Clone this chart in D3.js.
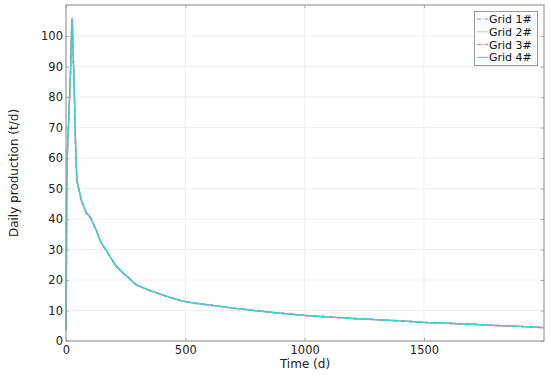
<!DOCTYPE html>
<html><head><meta charset="utf-8">
<script src="https://cdn.jsdelivr.net/npm/d3@7"></script>
<style>body{margin:0;background:#fff}svg{display:block}svg text{font-family:"DejaVu Sans","Bitstream Vera Sans",Verdana,sans-serif}</style>
</head><body><svg id="c" width="550" height="375"></svg>
<script>
const seriesNames = ["Grid 1#", "Grid 2#", "Grid 3#", "Grid 4#"];
const seriesColors = ["#6f8fe8", "#9be09b", "#f06a5a", "#3ecfd6"];
const seriesDash = ["4,1.5,1,1.5", null, "4,1.5,1,1.5", null];
const time = [0,1,2,3,6,10,14,18,22,25,27,30,34,38,42,46,55,65,75,85,95,105,115,127,140,155,170,190,211,230,250,270,295,320,350,390,440,500,560,620,700,800,900,1000,1100,1200,1300,1400,1500,1600,1700,1800,1900,2000];
const grid4 = [3.5,15,30,50,62,70,78,86,97,106,103,94,85,70,60,53,49.6,46,44,42,41.2,40,38.3,36.3,33.6,31.3,29.6,27,24.5,23,21.6,20.2,18.4,17.6,16.6,15.5,14.2,12.9,12.2,11.6,10.8,9.9,9.1,8.4,7.9,7.4,7.0,6.6,6.1,5.8,5.5,5.1,4.8,4.4];
const grid3 = [3.5,15,30,50,62,70,78,86,97,105.6,103,94,85,70,60,53,49.6,46,44,42.2,41.5,40.2,38.3,36.3,33.6,31.3,29.6,27,24.7,22.8,21.8,20.0,18.6,17.6,16.6,15.5,14.2,12.9,12.3,11.6,10.8,9.9,9.1,8.4,7.9,7.4,7.0,6.6,6.1,5.8,5.5,5.1,4.8,4.4];
const grid2 = [3.5,15,30,50,62,70,78,86,97,105.8,103,94,85,70,60,53,49.6,46,44,42,41.3,40,38.3,36.3,33.6,31.3,29.6,27,24.6,23,21.7,20.1,18.5,17.6,16.6,15.5,14.2,12.9,12.2,11.6,10.8,9.9,9.1,8.4,7.9,7.4,7.0,6.6,6.1,5.8,5.5,5.1,4.8,4.4];
const grid1 = [3.5,15,30,50,62,70,78,86,97,105.5,103,94,85,70,60,53,49.6,46,44,41.9,41.0,39.8,38.3,36.3,33.6,31.3,29.6,27,24.3,23.2,21.4,20.3,18.3,17.6,16.6,15.5,14.2,12.9,12.1,11.6,10.8,9.9,9.1,8.4,7.9,7.4,7.0,6.6,6.1,5.8,5.5,5.1,4.8,4.4];
const allSeries = [grid1, grid2, grid3, grid4];
const xTicks = [0, 500, 1000, 1500];
const yTicks = [0,10,20,30,40,50,60,70,80,90,100];

const FONT = '"DejaVu Sans","Bitstream Vera Sans",Verdana,sans-serif';
const svg = d3.select("#c");
const L = 66, R = 544, T = 5, B = 341;
const x = d3.scaleLinear().domain([0, 2003]).range([L, R]);
const y = d3.scaleLinear().domain([0, 110.2]).range([B, T]);

// grid
svg.append("g").selectAll("line").data(yTicks.slice(1)).join("line")
  .attr("x1", L).attr("x2", R).attr("y1", d => y(d)).attr("y2", d => y(d))
  .attr("stroke", "#efefef").attr("stroke-width", 1);
svg.append("g").selectAll("line").data(xTicks.slice(1)).join("line")
  .attr("y1", T).attr("y2", B).attr("x1", d => x(d)).attr("x2", d => x(d))
  .attr("stroke", "#efefef").attr("stroke-width", 1);

// axes with inward ticks
const fmt = d3.format("d");
const ax = svg.append("g").attr("transform", `translate(0,${B})`)
  .call(d3.axisBottom(x).tickValues(xTicks).tickFormat(fmt).tickSizeInner(-3).tickSizeOuter(0).tickPadding(5));
const axT = svg.append("g").attr("transform", `translate(0,${T})`)
  .call(d3.axisTop(x).tickValues(xTicks).tickSizeInner(-3).tickSizeOuter(0).tickFormat(""));
const ay = svg.append("g").attr("transform", `translate(${L},0)`)
  .call(d3.axisLeft(y).tickValues(yTicks).tickFormat(fmt).tickSizeInner(-3).tickSizeOuter(0).tickPadding(3));
const ayR = svg.append("g").attr("transform", `translate(${R},0)`)
  .call(d3.axisRight(y).tickValues(yTicks).tickSizeInner(-3).tickSizeOuter(0).tickFormat(""));
[ax, axT, ay, ayR].forEach(g => {
  g.attr("font-family", FONT).attr("font-size", 11.5);
  g.select(".domain").remove();
  g.selectAll(".tick line").attr("stroke", "#aaa");
  g.selectAll("text").attr("fill", "#222");
});

// lines
const line = d3.line().curve(d3.curveMonotoneX).x((d, i) => x(time[i])).y(d => y(d));
allSeries.forEach((s, k) => {
  svg.append("path").datum(s).attr("d", line).attr("fill", "none")
    .attr("stroke", seriesColors[k]).attr("stroke-width", 1.4)
    .attr("stroke-dasharray", seriesDash[k]);
});

// frame
svg.append("rect").attr("x", L).attr("y", T).attr("width", R - L).attr("height", B - T)
  .attr("fill", "none").attr("stroke", "#999").attr("stroke-width", 1.2);

// axis titles
svg.append("text").attr("x", 305).attr("y", 368).attr("text-anchor", "middle")
  .attr("font-size", 12).attr("fill", "#222").text("Time (d)");
svg.append("text").attr("transform", "translate(18,173) rotate(-90)").attr("text-anchor", "middle")
  .attr("font-size", 12).attr("fill", "#222").text("Daily production (t/d)");

// legend
const lg = svg.append("g");
lg.append("rect").attr("x", 474.5).attr("y", 11.5).attr("width", 63).attr("height", 54)
  .attr("fill", "#fff").attr("stroke", "#999").attr("stroke-width", 1);
seriesNames.forEach((n, k) => {
  const cy = 19 + k * 12.8;
  lg.append("line").attr("x1", 477).attr("x2", 488).attr("y1", cy).attr("y2", cy)
    .attr("stroke", seriesColors[k]).attr("stroke-width", 1).attr("stroke-dasharray", seriesDash[k]);
  lg.append("text").attr("x", 489).attr("y", cy + 4).attr("font-size", 11).attr("fill", "#111").text(n);
});
</script></body></html>
